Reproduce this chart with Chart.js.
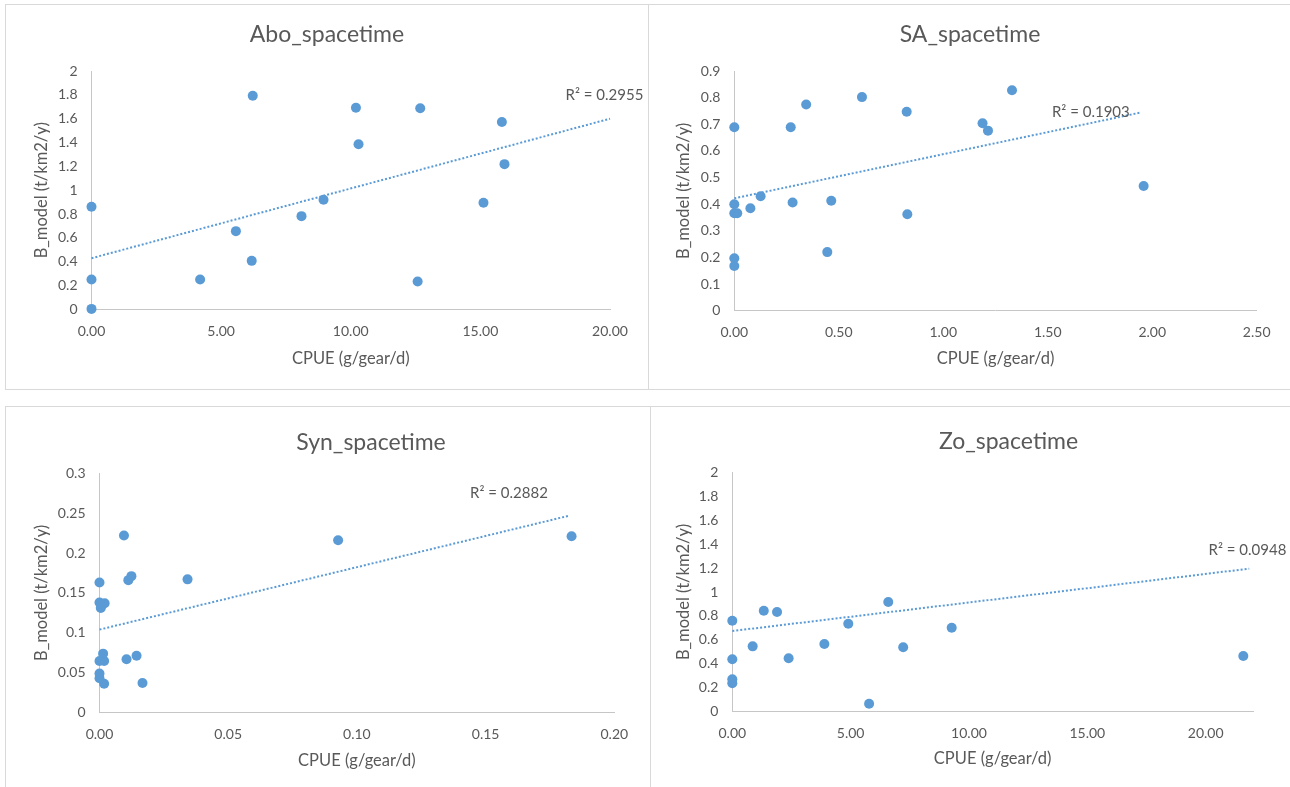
<!DOCTYPE html>
<html lang="en">
<head>
<meta charset="UTF-8">
<title>B_model vs CPUE</title>
<script src="https://cdn.jsdelivr.net/npm/chart.js"></script>
<style>
  * { margin: 0; padding: 0; box-sizing: border-box; }
  body { width: 1290px; height: 787px; background: #fff; overflow: hidden; position: relative; }
  .panel { position: absolute; background: #fff; border: 1px solid #d9d9d9; overflow: hidden; }
  .panel canvas { position: absolute; left: 0; top: 0; }
</style>
</head>
<body>
<div class="panel" style="left:5px;top:4px;width:644px;height:386px"><canvas id="aboChart"></canvas></div>
<div class="panel" style="left:648px;top:4px;width:700px;height:386px"><canvas id="saChart"></canvas></div>
<div class="panel" style="left:5px;top:406px;width:733px;height:400px"><canvas id="synChart"></canvas></div>
<div class="panel" style="left:650px;top:406px;width:720px;height:400px"><canvas id="zoChart"></canvas></div>

<script>
// Abo_spacetime
const aboX = [0, 0, 0, 4.19, 5.57, 6.22, 6.18, 8.10, 8.95, 10.20, 10.30, 12.68, 12.58, 15.12, 15.83, 15.93];
const aboY = [0.861, 0.252, 0.005, 0.252, 0.657, 1.793, 0.408, 0.783, 0.920, 1.692, 1.385, 1.687, 0.235, 0.895, 1.572, 1.219];
const aboTrendX = [0, 20];
const aboTrendY = [0.43, 1.60];
const aboXTicks = [0, 5, 10, 15, 20];
const aboYTicks = [0, 0.2, 0.4, 0.6, 0.8, 1, 1.2, 1.4, 1.6, 1.8, 2];

// SA_spacetime
const saX = [0, 0, 0, 0.014, 0, 0, 0.077, 0.126, 0.270, 0.279, 0.344, 0.445, 0.464, 0.611, 0.825, 0.828, 1.188, 1.214, 1.329, 1.959];
const saY = [0.689, 0.400, 0.366, 0.366, 0.197, 0.168, 0.385, 0.430, 0.689, 0.406, 0.774, 0.220, 0.413, 0.802, 0.747, 0.362, 0.704, 0.676, 0.828, 0.468];
const saTrendX = [0, 1.944];
const saTrendY = [0.422, 0.744];
const saXTicks = [0, 0.5, 1, 1.5, 2, 2.5];
const saYTicks = [0, 0.1, 0.2, 0.3, 0.4, 0.5, 0.6, 0.7, 0.8, 0.9];

// Syn_spacetime
const synX = [0, 0, 0.002, 0.0005, 0.001, 0.0095, 0.0112, 0.0124, 0.0342, 0.0927, 0.1834, 0.0014, 0, 0.0018, 0.0105, 0.0144, 0, 0, 0.0018, 0.0167];
const synY = [0.163, 0.138, 0.137, 0.131, 0.135, 0.222, 0.166, 0.171, 0.167, 0.216, 0.221, 0.0738, 0.0646, 0.0646, 0.0667, 0.0712, 0.049, 0.043, 0.036, 0.037];
const synTrendX = [0, 0.1824];
const synTrendY = [0.104, 0.2468];
const synXTicks = [0, 0.05, 0.1, 0.15, 0.2];
const synYTicks = [0, 0.05, 0.1, 0.15, 0.2, 0.25, 0.3];

// Zo_spacetime
const zoX = [0, 1.33, 1.89, 0.86, 0, 0, 0, 2.38, 3.89, 4.90, 5.78, 6.59, 7.22, 9.27, 21.59];
const zoY = [0.760, 0.844, 0.833, 0.546, 0.438, 0.271, 0.237, 0.446, 0.566, 0.735, 0.067, 0.916, 0.538, 0.702, 0.465];
const zoTrendX = [0, 21.84];
const zoTrendY = [0.674, 1.195];
const zoXTicks = [0, 5, 10, 15, 20];
const zoYTicks = [0, 0.2, 0.4, 0.6, 0.8, 1, 1.2, 1.4, 1.6, 1.8, 2];

const xLabel = 'CPUE (g/gear/d)';
const yLabel = 'B_model (t/km2/y)';

const FONT = 'Lato';
const TEXT = '#595959';
const BLUE = '#5b9bd5';
const AXIS = '#c6c6c6';
const TITLE_SIZE = 23, AXIS_TITLE_SIZE = 16.5, TICK_SIZE = 14, R2_SIZE = 15;

function toPoints(xs, ys) {
    return xs.map((x, i) => ({ x: x, y: ys[i] }));
}

// draws the R² text next to the end of the trendline
const r2Label = {
    id: 'r2Label',
    afterDatasetsDraw(chart, args, opts) {
        const { ctx, scales } = chart;
        const px = scales.x.getPixelForValue(opts.atX) + opts.dx;
        const py = scales.y.getPixelForValue(opts.atY) + opts.dy;
        ctx.save();
        ctx.font = R2_SIZE + 'px ' + FONT;
        ctx.fillStyle = TEXT;
        ctx.textAlign = 'center';
        ctx.textBaseline = 'middle';
        ctx.fillText(opts.text, px, py);
        ctx.restore();
    }
};

function buildChart(id, p) {
    const canvas = document.getElementById(id);
    canvas.width = p.box.w;
    canvas.height = p.box.h;

    const titleLH = TITLE_SIZE * 1.2;
    const axisLH = AXIS_TITLE_SIZE * 1.2;
    const tickLH = TICK_SIZE * 1.2;
    const left = p.area.l - p.box.x;
    const top = p.area.t - p.box.y;
    const right = p.box.x + p.box.w - p.area.r;
    const bottom = p.box.y + p.box.h - p.area.b;
    const titleTop = p.titleY - p.box.y - titleLH / 2;
    const xAxisH = p.xTitleY - p.area.b + axisLH / 2 + 2;

    return new Chart(canvas, {
        type: 'scatter',
        data: {
            datasets: [
                {
                    data: toPoints(p.trendX, p.trendY),
                    showLine: true,
                    borderColor: BLUE,
                    borderWidth: 2,
                    borderDash: [2, 2],
                    pointRadius: 0,
                    clip: false,
                    order: 0
                },
                {
                    data: toPoints(p.xs, p.ys),
                    backgroundColor: BLUE,
                    borderColor: BLUE,
                    borderWidth: 0,
                    pointRadius: 5,
                    pointHoverRadius: 5,
                    clip: false,
                    order: 1
                }
            ]
        },
        options: {
            responsive: false,
            animation: false,
            layout: { padding: { left: 0, top: 0, right: 0, bottom: bottom - xAxisH } },
            plugins: {
                legend: { display: false },
                tooltip: { enabled: false },
                title: {
                    display: true,
                    text: p.title,
                    color: TEXT,
                    font: { family: FONT, size: TITLE_SIZE, weight: 'normal' },
                    padding: { top: titleTop, bottom: top - titleTop - titleLH }
                },
                r2Label: {
                    text: p.r2,
                    atX: p.trendX[1],
                    atY: p.trendY[1],
                    dx: p.r2dx,
                    dy: p.r2dy
                }
            },
            scales: {
                x: {
                    type: 'linear',
                    min: p.xTicks[0],
                    max: p.xMax,
                    grid: { display: false, drawTicks: false },
                    border: { display: true, color: AXIS, width: 1 },
                    ticks: {
                        color: TEXT,
                        font: { family: FONT, size: TICK_SIZE },
                        padding: 22 - tickLH / 2,
                        maxRotation: 0,
                        autoSkip: false,
                        callback: v => v.toFixed(2)
                    },
                    title: {
                        display: true,
                        text: xLabel,
                        color: TEXT,
                        font: { family: FONT, size: AXIS_TITLE_SIZE },
                        padding: { top: 0, bottom: 2 }
                    },
                    afterBuildTicks: s => { s.ticks = p.xTicks.map(v => ({ value: v })); },
                    afterFit: s => { s.height = xAxisH; }
                },
                y: {
                    type: 'linear',
                    min: 0,
                    max: p.yTicks[p.yTicks.length - 1],
                    grid: { display: false, drawTicks: false },
                    border: { display: true, color: AXIS, width: 1 },
                    ticks: {
                        color: TEXT,
                        font: { family: FONT, size: TICK_SIZE },
                        padding: 14,
                        autoSkip: false,
                        callback: v => String(parseFloat(v.toFixed(3)))
                    },
                    title: {
                        display: true,
                        text: yLabel,
                        color: TEXT,
                        font: { family: FONT, size: AXIS_TITLE_SIZE },
                        padding: { top: p.yTitleX - p.box.x - axisLH / 2, bottom: 0 }
                    },
                    afterBuildTicks: s => { s.ticks = p.yTicks.map(v => ({ value: v })); },
                    afterFit: s => { s.width = left; }
                },
                // empty right-hand box, keeps the plot area narrow while the title stays centred on the canvas
                gap: {
                    type: 'linear',
                    position: 'right',
                    display: true,
                    grid: { display: false, drawTicks: false },
                    border: { display: false },
                    ticks: { display: false },
                    afterFit: s => { s.width = right; }
                }
            }
        },
        plugins: [r2Label]
    });
}

buildChart('aboChart', {
    title: 'Abo_spacetime', r2: 'R² = 0.2955', r2dx: -5.5, r2dy: -23.6,
    xs: aboX, ys: aboY, trendX: aboTrendX, trendY: aboTrendY,
    xTicks: aboXTicks, yTicks: aboYTicks, xMax: 20,
    box: { x: 6, y: 5, w: 642, h: 384 },
    area: { l: 91.5, r: 610, t: 71, b: 309.5 },
    titleY: 35, xTitleY: 359, yTitleX: 41.5
});

buildChart('saChart', {
    title: 'SA_spacetime', r2: 'R² = 0.1903', r2dx: -49.7, r2dy: 0,
    xs: saX, ys: saY, trendX: saTrendX, trendY: saTrendY,
    xTicks: saXTicks, yTicks: saYTicks, xMax: 2.5,
    box: { x: 649, y: 5, w: 642, h: 384 },
    area: { l: 734.3, r: 1256.7, t: 71, b: 310.7 },
    titleY: 35, xTitleY: 359, yTitleX: 684
});

buildChart('synChart', {
    title: 'Syn_spacetime', r2: 'R² = 0.2882', r2dx: -60, r2dy: -23,
    xs: synX, ys: synY, trendX: synTrendX, trendY: synTrendY,
    xTicks: synXTicks, yTicks: synYTicks, xMax: 0.2,
    box: { x: 6, y: 407, w: 730, h: 380 },
    area: { l: 99.5, r: 614.3, t: 473.3, b: 712.5 },
    titleY: 442.7, xTitleY: 760.7, yTitleX: 41.5
});

buildChart('zoChart', {
    title: 'Zo_spacetime', r2: 'R² = 0.0948', r2dx: -1.8, r2dy: -18.7,
    xs: zoX, ys: zoY, trendX: zoTrendX, trendY: zoTrendY,
    xTicks: zoXTicks, yTicks: zoYTicks, xMax: 22,
    box: { x: 651, y: 407, w: 715, h: 380 },
    area: { l: 732.3, r: 1253, t: 472.3, b: 711.7 },
    titleY: 441.7, xTitleY: 759, yTitleX: 683.5
});
</script>
</body>
</html>
